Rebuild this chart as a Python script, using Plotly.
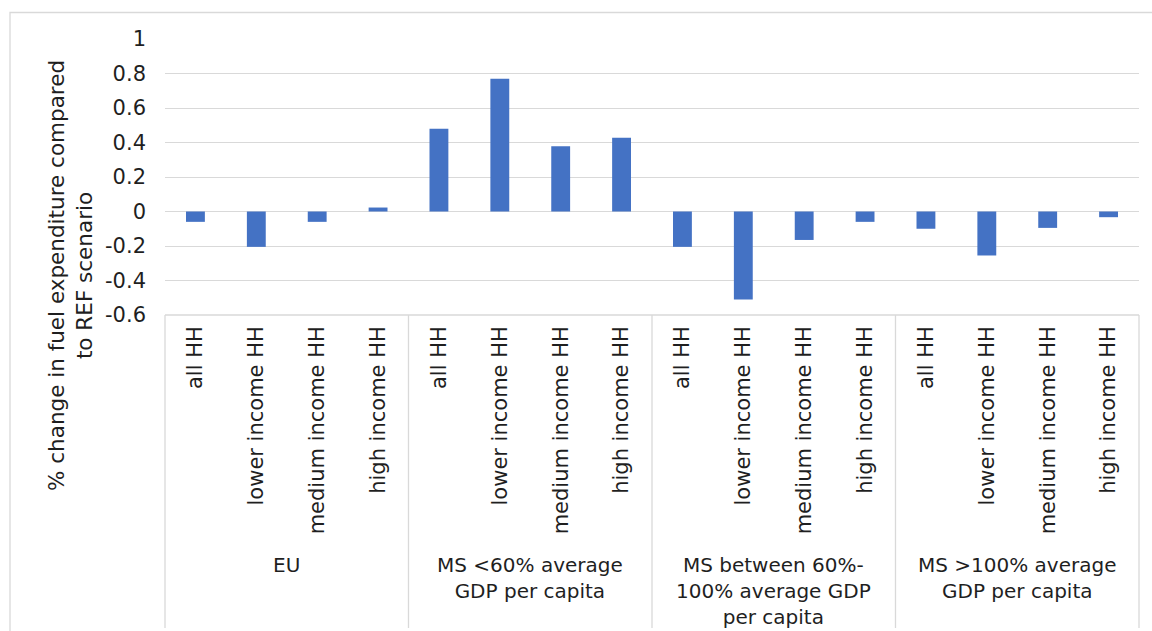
import plotly.graph_objects as go

groups = ["EU", "MS <60% average<br>GDP per capita",
          "MS between 60%-<br>100% average GDP<br>per capita",
          "MS >100% average<br>GDP per capita"]
subcats = ["all HH", "lower income HH", "medium income HH", "high income HH"]
values_eu = [-0.06, -0.205, -0.06, 0.023]
values_lt60 = [0.48, 0.77, 0.378, 0.428]
values_60_100 = [-0.205, -0.51, -0.165, -0.06]
values_gt100 = [-0.10, -0.255, -0.095, -0.033]
ytick_vals = [-0.6, -0.4, -0.2, 0, 0.2, 0.4, 0.6, 0.8, 1]
ytick_text = ["-0.6", "-0.4", "-0.2", "0", "0.2", "0.4", "0.6", "0.8", "1"]

all_values = values_eu + values_lt60 + values_60_100 + values_gt100
n_sub = len(subcats)
n = len(all_values)
xpos = list(range(n))
xlabels = subcats * len(groups)

W, H = 1152, 631
ml, mr, mt, mb = 165, 13, 39, 316
pw, ph = W - ml - mr, H - mt - mb

def py(pix):  # pixel y -> paper y
    return (H - mb - pix) / ph

def px(pix):
    return (pix - ml) / pw

FONT = "DejaVu Sans"
TXT = "#1f1f1f"
GRID = "#D9D9D9"
FS = 21

fig = go.Figure(go.Bar(x=xpos, y=all_values, marker=dict(color="#4472C4", line=dict(width=0)),
                       width=0.31))

shapes = []
for g in range(len(groups) + 1):
    xp = g * n_sub / n
    shapes.append(dict(type="line", xref="paper", yref="paper", x0=xp, x1=xp, y0=0, y1=py(628),
                       line=dict(color=GRID, width=1.3)))
shapes.append(dict(type="line", xref="paper", yref="paper", x0=0, x1=1, y0=0, y1=0,
                   line=dict(color=GRID, width=1.3)))
# outer chart border
shapes.append(dict(type="rect", xref="paper", yref="paper", x0=px(10), x1=px(1165), y0=py(645), y1=py(12.5),
                   line=dict(color=GRID, width=1.3), fillcolor="rgba(0,0,0,0)", layer="below"))

annotations = []
for gi, g in enumerate(groups):
    center = gi * n_sub + (n_sub - 1) / 2
    annotations.append(dict(x=center, xref="x", y=py(551), yref="paper", text=g, showarrow=False,
                            yanchor="top", xanchor="center", align="center",
                            font=dict(family=FONT, size=20, color=TXT)))
annotations.append(dict(x=px(70), y=py(276), xref="paper", yref="paper",
                        text="% change in fuel expenditure compared<br>to REF scenario",
                        textangle=-90, showarrow=False, xanchor="center", yanchor="middle",
                        align="center", font=dict(family=FONT, size=21.5, color=TXT)))

fig.update_layout(
    width=W, height=H,
    margin=dict(l=ml, r=mr, t=mt, b=mb, autoexpand=False),
    paper_bgcolor="white", plot_bgcolor="white",
    showlegend=False,
    shapes=shapes, annotations=annotations,
    font=dict(family=FONT, color=TXT, size=FS),
)
fig.update_xaxes(range=[-0.5, n - 0.5], tickvals=xpos, ticktext=xlabels, tickangle=-90,
                 showgrid=False, zeroline=False, showline=False, ticks="",
                 tickfont=dict(family=FONT, size=FS, color=TXT), automargin=False,
                 ticklabelstandoff=6)
fig.update_yaxes(range=[-0.6, 1], tickvals=ytick_vals, ticktext=ytick_text,
                 showgrid=True, gridcolor=GRID, gridwidth=1.3, zeroline=False, showline=False,
                 ticks="", tickfont=dict(family=FONT, size=FS, color=TXT), automargin=False,
                 ticklabelstandoff=18)

fig.write_html("out.html")
